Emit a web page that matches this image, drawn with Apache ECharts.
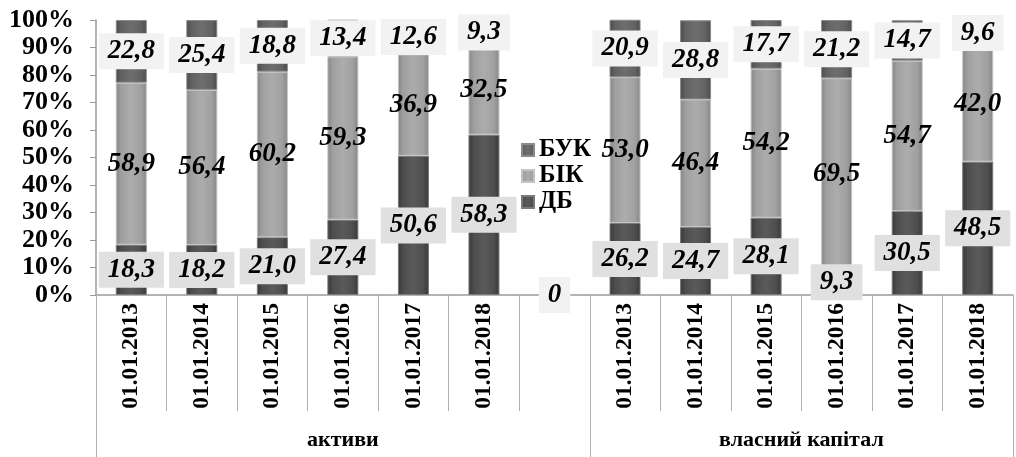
<!DOCTYPE html>
<html>
<head>
<meta charset="utf-8">
<script src="https://cdn.jsdelivr.net/npm/echarts@6/dist/echarts.min.js"></script>
<style>
html,body{margin:0;padding:0;background:#fff;}
#c{width:1016px;height:457px;}
</style>
</head>
<body>
<div id="c"></div>
<script>
const categories = ['01.01.2013','01.01.2014','01.01.2015','01.01.2016','01.01.2017','01.01.2018','',
                    '01.01.2013','01.01.2014','01.01.2015','01.01.2016','01.01.2017','01.01.2018'];
const groups = ['активи', 'власний капітал'];
const seriesNames = ['ДБ', 'БІК', 'БУК'];
const DB  = [18.3, 18.2, 21.0, 27.4, 50.6, 58.3, 0,    26.2, 24.7, 28.1, 9.3, 30.5, 48.5];
const BIK = [58.9, 56.4, 60.2, 59.3, 36.9, 32.5, null, 53.0, 46.4, 54.2, 69.5, 54.7, 42.0];
const BUK = [22.8, 25.4, 18.8, 13.4, 12.6, 9.3,  null, 20.9, 28.8, 17.7, 21.2, 14.7, 9.6];
const yTicks = [0, 10, 20, 30, 40, 50, 60, 70, 80, 90, 100];

const FONT = '"Liberation Serif","Times New Roman",serif';

function grad(edge, mid, light) {
  return {
    type: 'linear', x: 0, y: 0, x2: 1, y2: 0,
    colorStops: [
      {offset: 0, color: edge},
      {offset: 0.18, color: mid},
      {offset: 0.5, color: light},
      {offset: 0.82, color: mid},
      {offset: 1, color: edge}
    ]
  };
}

function fmt(p) {
  if (p.value === 0) return '0';
  return p.value.toFixed(1).replace('.', ',');
}

const labelBase = {
  show: true,
  position: 'inside',
  formatter: fmt,
  fontFamily: FONT,
  fontWeight: 'bold',
  fontStyle: 'italic',
  fontSize: 27,
  color: '#000'
};

// group axis: 27 points with boundaryGap false
const groupPoints = [];
for (let i = 0; i <= categories.length * 2; i++) groupPoints.push(String(i));
const groupLabelAt = {7: groups[0], 20: groups[1]};
const groupTickAt = [0, 14, 26];

const option = {
  animation: false,
  backgroundColor: '#fff',
  grid: {left: 96, top: 20, width: 928, height: 275, containLabel: false},
  legend: {
    orient: 'vertical',
    left: 516,
    top: 132,
    data: ['БУК', 'БІК', 'ДБ'],
    itemWidth: 12,
    itemHeight: 12,
    itemGap: 0,
    icon: 'rect',
    textStyle: {fontFamily: FONT, fontWeight: 'bold', fontSize: 25, color: '#000', lineHeight: 26}
  },
  xAxis: [
    {
      type: 'category',
      data: categories,
      axisLine: {lineStyle: {color: '#9a9a9a', width: 1.5}},
      axisTick: {show: true, length: 116, interval: 0, lineStyle: {color: '#b0b0b0'}},
      axisLabel: {
        interval: 0, rotate: 90, margin: 8,
        fontFamily: FONT, fontWeight: 'bold', fontSize: 23.5, color: '#000'
      }
    },
    {
      type: 'category',
      position: 'bottom',
      boundaryGap: false,
      data: groupPoints,
      axisLine: {show: false},
      axisTick: {
        show: true, length: 165,
        interval: function (idx) { return groupTickAt.indexOf(idx) >= 0; },
        lineStyle: {color: '#b0b0b0'}
      },
      axisLabel: {
        interval: 0,
        margin: 134,
        formatter: function (v, idx) { return groupLabelAt[idx] || ''; },
        fontFamily: FONT, fontWeight: 'bold', fontSize: 22, color: '#000'
      }
    }
  ],
  yAxis: {
    type: 'value',
    min: 0, max: 100, interval: 10,
    axisLine: {show: true, lineStyle: {color: '#9a9a9a', width: 1.5}},
    axisTick: {show: true, length: 6, lineStyle: {color: '#9a9a9a'}},
    splitLine: {show: false},
    axisLabel: {
      margin: 22,
      formatter: function (v) { return yTicks.indexOf(v) >= 0 ? v + '%' : ''; },
      fontFamily: FONT, fontWeight: 'bold', fontSize: 26, color: '#000'
    }
  },
  series: [
    {
      name: seriesNames[0], type: 'bar', stack: 'a', barWidth: 31,
      data: DB.map(function (v) {
        return v === 0 ? {value: v, label: {backgroundColor: '#f2f2f2'}} : v;
      }),
      itemStyle: {color: grad('#383838', '#4e4e4e', '#5a5a5a'), borderColor: '#7a7a7a', borderWidth: 1},
      label: Object.assign({}, labelBase, {backgroundColor: '#e0e0e0', padding: [6, 9, 3, 9]})
    },
    {
      name: seriesNames[1], type: 'bar', stack: 'a', barWidth: 31,
      data: BIK,
      itemStyle: {color: grad('#868686', '#a0a0a0', '#acacac'), borderColor: '#c4c4c4', borderWidth: 1},
      label: Object.assign({}, labelBase)
    },
    {
      name: seriesNames[2], type: 'bar', stack: 'a', barWidth: 31,
      data: BUK,
      itemStyle: {color: grad('#4a4a4a', '#626262', '#6e6e6e'), borderColor: '#8a8a8a', borderWidth: 1},
      label: Object.assign({}, labelBase, {backgroundColor: '#f2f2f2', padding: [6, 9, 3, 9]})
    }
  ]
};

const chart = echarts.init(document.getElementById('c'), null, {renderer: 'canvas'});
chart.setOption(option);
</script>
</body>
</html>
